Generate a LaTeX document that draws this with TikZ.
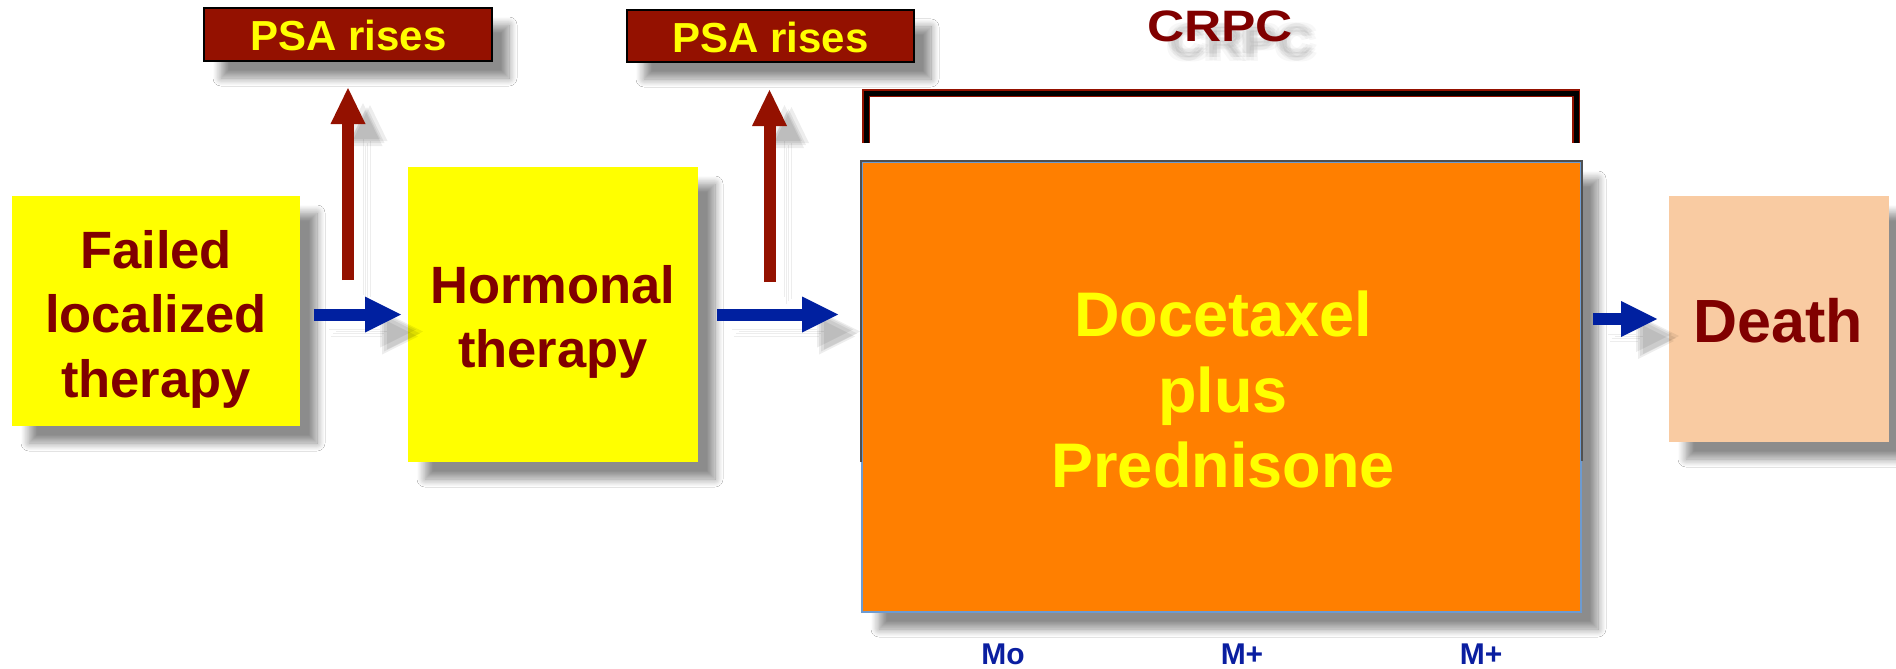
\documentclass[tikz,border=0pt]{standalone}
\usepackage{fontspec}
\setmainfont{Liberation Sans}
\usetikzlibrary{arrows.meta,shadows.blur}

\definecolor{cyel}{HTML}{FFFF00}
\definecolor{cdred}{HTML}{800000}
\definecolor{cbrick}{HTML}{941100}
\definecolor{cblue}{HTML}{0020A0}
\definecolor{corange}{HTML}{FF7F00}
\definecolor{cpeach}{HTML}{F9CBA2}
\definecolor{cedge}{HTML}{6D9BD1}
\definecolor{cframe}{HTML}{505050}
\definecolor{clabel}{HTML}{0A1EA0}

\newcommand\fsz[2]{\fontsize{#1}{#2}\selectfont}

\begin{document}
\begin{tikzpicture}[x=1pt,y=-1pt,
  every node/.style={inner sep=0pt,outer sep=0pt},
  boxshadow/.style={blur shadow={shadow xshift=17pt,shadow yshift=-17pt,
      shadow blur radius=8pt,shadow blur steps=10,shadow opacity=45}},
  panel/.style={boxshadow,rectangle},
  bodytext/.style={align=center,font=\bfseries#1},
  arrowshade/.style={
    preaction={draw=black,opacity=0.07,transform canvas={shift={(15pt,-15pt)}}},
    preaction={draw=black,opacity=0.07,transform canvas={shift={(19pt,-19pt)}}},
    preaction={draw=black,opacity=0.07,transform canvas={shift={(17pt,-22pt)}}},
    preaction={draw=black,opacity=0.07,transform canvas={shift={(22pt,-17pt)}}}},
  bluearrow/.style={cblue,line width=12pt,
    -{Triangle[length=36pt,width=36pt,line width=0pt]},arrowshade},
  redarrow/.style={cbrick,line width=12pt,
    -{Triangle[length=36pt,width=35pt,line width=0pt]},arrowshade},
  softtext/.style={anchor=base,text=black,opacity=0.03}
]
\fill[white] (0,0) rectangle (1896,669);

% ---------- boxes ----------
\node[panel,fill=cyel,minimum width=288pt,minimum height=230pt] (box1) at (156,311) {};
\node[panel,fill=cyel,minimum width=290pt,minimum height=295pt] (box2) at (553,314.5) {};
\node[panel,fill=corange,draw=cedge,line width=1.5pt,minimum width=719pt,minimum height=450pt] (orange) at (1221.5,387) {};
\draw[cframe,line width=1.6pt] ([xshift=-1pt,yshift=-300pt]orange.north west) |- ([xshift=1pt,yshift=1pt]orange.north east) -- ++(0,300);
\node[panel,fill=cpeach,minimum width=220pt,minimum height=246pt] (death) at (1779,319) {};
\node[panel,fill=cbrick,draw=black,line width=1.5pt,minimum width=288pt,minimum height=53pt] (psa1) at (348,34.5) {};
\node[panel,fill=cbrick,draw=black,line width=1.5pt,minimum width=287pt,minimum height=52pt] (psa2) at (770.5,36) {};

% ---------- texts ----------
\node[bodytext={\fsz{52.5}{64.5}},text=cdred] (box1t) at (156,319) {Failed\\localized\\therapy};
\node[bodytext={\fsz{52.5}{64}},text=cdred] (box2t) at (553,321.5) {Hormonal\\therapy};
\node[bodytext={\fsz{63}{75.5}},text=cyel] (oranget) at (1223,389.5) {Docetaxel\\plus\\Prednisone};
\node[bodytext={\fsz{61}{70}},text=cdred,anchor=base] (deatht) at (1778,342) {Death};
\node[bodytext={\fsz{42}{50}},text=cyel,anchor=base] (psa1t) at (348.5,51) {PSA rises};
\node[bodytext={\fsz{42}{50}},text=cyel,anchor=base] (psa2t) at (770.5,53) {PSA rises};

% ---------- CRPC bracket ----------
\coordinate (brL) at ([xshift=4pt,yshift=19pt]orange.north west);
\coordinate (brR) at ([xshift=-5pt,yshift=19pt]orange.north east);
\draw[cbrick,line width=8pt,line join=miter] (brL) |- ([yshift=50pt]brR) -- (brR);
\draw[black,line width=5pt,line join=miter] (brL) |- ([yshift=50pt]brR) -- (brR);

% soft reflection under the heading
\foreach \dx/\dy [count=\i] in {0/0,3/0,-3/0,0/3,0/-3,4/4,-4/-4,4/-4,-4/4}
  \node[softtext,font=\bfseries\fsz{44}{50}] (crpcsh\i) at (1242+\dx,58+\dy) {\scalebox{1.17}[1]{CRPC}};
\node[bodytext={\fsz{44}{50}},text=cdred,anchor=base] (crpc) at (1220,42) {\scalebox{1.17}[1]{CRPC}};

% ---------- stage labels ----------
\foreach \px/\lab [count=\j] in {1003/Mo,1242/M+,1481/M+}
  \node[bodytext={\fsz{30}{36}},text=clabel,anchor=base] (lab\j) at (\px,664) {\lab};

% ---------- connectors ----------
\draw[bluearrow,shorten <=14pt,shorten >=7pt] (box1.east |- box2.west) -- (box2.west);
\draw[bluearrow,shorten <=19pt,shorten >=24pt] (box2.east) -- (box2.east -| orange.west);
\draw[bluearrow,shorten <=12pt,shorten >=12pt] (death.west -| orange.east) -- (death.west);

\coordinate (r1) at (348,280);
\coordinate (r2) at (769.5,282);
\draw[redarrow,shorten >=27pt] (r1) -- (r1 |- psa1.south);
\draw[redarrow,shorten >=28pt] (r2) -- (r2 |- psa2.south);
\end{tikzpicture}
\end{document}
